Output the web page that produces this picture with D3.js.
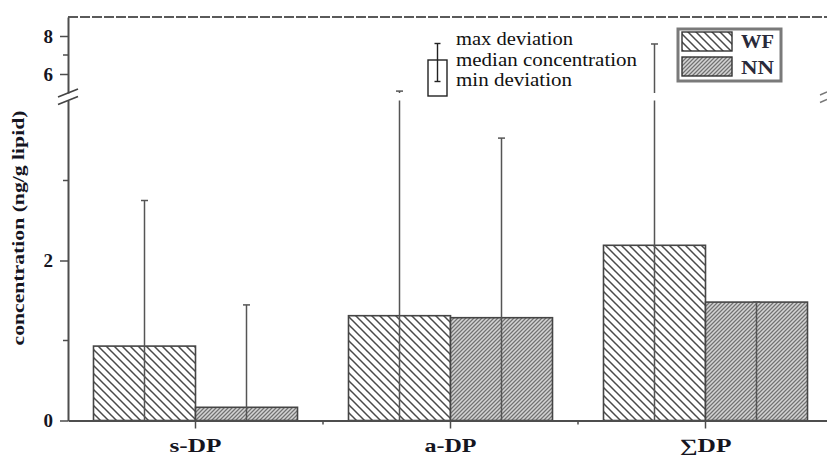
<!DOCTYPE html>
<html>
<head>
<meta charset="utf-8">
<script src="https://cdn.jsdelivr.net/npm/d3@7"></script>
<style>
  html, body { margin: 0; padding: 0; background: #fff; }
  svg { display: block; }
  text { font-family: "Liberation Serif", "Times New Roman", serif; }
</style>
</head>
<body>
<svg id="chart" width="827" height="455"></svg>
<script>
// ---- data ----
const categories = ["s-DP", "a-DP", "∑DP"];
const seriesNames = ["WF", "NN"];
const wfMedian = [0.93, 1.31, 2.19];
const nnMedian = [0.165, 1.285, 1.48];
const wfMax = [2.75, 5.1, 7.58];
const nnMax = [1.445, 3.53, 1.48];
const lowerTicks = [0, 2];
const lowerMinor = [1, 3];
const upperTicks = [6, 8];
const upperMinor = [7];
const legendNotes = ["max deviation", "median concentration", "min deviation"];
const yTitle = "concentration (ng/g lipid)";

const svg = d3.select("#chart");
const defs = svg.append("defs");

// patterns
const pWF = defs.append("pattern").attr("id", "pWF")
  .attr("patternUnits", "userSpaceOnUse").attr("width", 8).attr("height", 8);
pWF.append("rect").attr("width", 8).attr("height", 8).attr("fill", "#fff");
pWF.append("path").attr("d", "M-2,-2L10,10M-2,6L2,10M6,-2L10,2")
  .attr("stroke", "#4a4a4a").attr("stroke-width", 1.5);

const pNN = defs.append("pattern").attr("id", "pNN")
  .attr("patternUnits", "userSpaceOnUse").attr("width", 4).attr("height", 4);
pNN.append("rect").attr("width", 4).attr("height", 4).attr("fill", "#ababab");
pNN.append("path").attr("d", "M-1,5L5,-1M-1,1L1,-1M3,5L5,3")
  .attr("stroke", "#727272").attr("stroke-width", 1);
pNN.append("path").attr("d", "M1,5L5,1M-1,3L3,-1")
  .attr("stroke", "#dedede").attr("stroke-width", 0.8);

const fills = { WF: "url(#pWF)", NN: "url(#pNN)" };

// scales
const x = d3.scaleBand().domain(categories).range([68, 833])
  .paddingInner(0.2).paddingOuter(0.1);
const xs = d3.scaleBand().domain(seriesNames).range([0, x.bandwidth()]);
const yLow = d3.scaleLinear().domain([0, 4]).range([420.5, 100.5]);
const yHigh = d3.scaleLinear().domain([5, 9]).range([93, 17]);
const y = v => (v <= 4.5 ? yLow(v) : yHigh(v));

const axisColor = "#4d4d4d";
const textColor = "#15151f";

// top frame line
svg.append("line").attr("x1", 68).attr("x2", 827)
  .attr("y1", yHigh(9)).attr("y2", yHigh(9))
  .attr("stroke", "#5a5a5a").attr("stroke-width", 2).attr("stroke-dasharray", "10,2");

// bars
const rows = [];
categories.forEach((c, i) => {
  rows.push({ cat: c, s: "WF", v: wfMedian[i], max: wfMax[i] });
  rows.push({ cat: c, s: "NN", v: nnMedian[i], max: nnMax[i] });
});

svg.append("g").selectAll("rect").data(rows).join("rect")
  .attr("x", d => x(d.cat) + xs(d.s))
  .attr("width", xs.bandwidth())
  .attr("y", d => yLow(d.v))
  .attr("height", d => yLow(0) - yLow(d.v))
  .attr("fill", d => fills[d.s])
  .attr("stroke", "#454545").attr("stroke-width", 1.6);

// error bars (from baseline to max deviation)
const eb = svg.append("g").attr("stroke", "#555").attr("stroke-width", 1.5);
rows.forEach(d => {
  const cx = x(d.cat) + xs(d.s) + xs.bandwidth() / 2;
  if (d.max > 4.5) {
    eb.append("line").attr("x1", cx).attr("x2", cx).attr("y1", yLow(0)).attr("y2", yLow(4));
    eb.append("line").attr("x1", cx).attr("x2", cx).attr("y1", yHigh(5)).attr("y2", y(d.max));
  } else {
    eb.append("line").attr("x1", cx).attr("x2", cx).attr("y1", yLow(0)).attr("y2", y(d.max));
  }
  eb.append("line").attr("x1", cx - 3.5).attr("x2", cx + 3.5)
    .attr("y1", y(d.max)).attr("y2", y(d.max));
});

// x axis
const xAxis = svg.append("g").attr("transform", `translate(0,${yLow(0)})`)
  .call(d3.axisBottom(x).tickSize(8).tickSizeOuter(0).tickPadding(10));
xAxis.select(".domain").attr("stroke", axisColor).attr("stroke-width", 2);
xAxis.selectAll(".tick line").attr("stroke", axisColor).attr("stroke-width", 1.5);
xAxis.selectAll(".tick text")
  .attr("font-family", "Liberation Serif").attr("font-weight", "bold")
  .attr("font-size", 19).attr("fill", textColor)
  .attr("textLength", 52).attr("lengthAdjust", "spacingAndGlyphs");
// minor x ticks between groups
const step = x.step();
categories.slice(0, -1).forEach(c => {
  const mx = x(c) + x.bandwidth() / 2 + step / 2;
  svg.append("line").attr("x1", mx).attr("x2", mx)
    .attr("y1", yLow(0)).attr("y2", yLow(0) + 4)
    .attr("stroke", axisColor).attr("stroke-width", 1.5);
});

// y axes
function styleY(g) {
  g.select(".domain").attr("stroke", axisColor).attr("stroke-width", 2);
  g.selectAll(".tick line").attr("stroke", axisColor).attr("stroke-width", 1.5);
  g.selectAll(".tick text")
    .attr("font-family", "Liberation Serif").attr("font-weight", "bold")
    .attr("font-size", 19).attr("fill", textColor);
}
const yLowAxis = svg.append("g").attr("transform", "translate(68,0)")
  .call(d3.axisLeft(yLow).tickValues(lowerTicks).tickSize(8).tickSizeOuter(0).tickPadding(7).tickFormat(d3.format("d")));
styleY(yLowAxis);
const yHighAxis = svg.append("g").attr("transform", "translate(68,0)")
  .call(d3.axisLeft(yHigh).tickValues(upperTicks).tickSize(8).tickSizeOuter(0).tickPadding(7).tickFormat(d3.format("d")));
styleY(yHighAxis);
// minor y ticks
lowerMinor.map(yLow).concat(upperMinor.map(yHigh)).forEach(py => {
  svg.append("line").attr("x1", 63).attr("x2", 68).attr("y1", py).attr("y2", py)
    .attr("stroke", axisColor).attr("stroke-width", 1.5);
});

// axis break marks
const bTop = yHigh(5), bBot = yLow(4);
[bTop, bBot].forEach(by => {
  svg.append("line").attr("x1", 58).attr("x2", 78).attr("y1", by + 4).attr("y2", by - 4)
    .attr("stroke", "#444").attr("stroke-width", 1.6);
  svg.append("line").attr("x1", 820).attr("x2", 827).attr("y1", by + 2).attr("y2", by - 1)
    .attr("stroke", "#777").attr("stroke-width", 1.4);
});

// y title
svg.append("text")
  .attr("transform", "translate(24,228) rotate(-90)")
  .attr("text-anchor", "middle")
  .attr("font-weight", "bold").attr("font-size", 16.5).attr("fill", textColor)
  .attr("textLength", 235).attr("lengthAdjust", "spacingAndGlyphs")
  .text(yTitle);

// explanatory legend (box + whisker icon)
svg.append("rect").attr("x", 428).attr("y", 60).attr("width", 19).attr("height", 36)
  .attr("fill", "none").attr("stroke", "#222").attr("stroke-width", 1.4);
const ix = 437.5;
svg.append("line").attr("x1", ix).attr("x2", ix).attr("y1", 43.5).attr("y2", 81.5)
  .attr("stroke", "#222").attr("stroke-width", 1.4);
[43.5, 81.5].forEach(py => svg.append("line").attr("x1", ix - 3).attr("x2", ix + 3)
  .attr("y1", py).attr("y2", py).attr("stroke", "#222").attr("stroke-width", 1.4));
const noteY = [45, 66, 86];
const noteW = [117, 181, 116];
legendNotes.forEach((t, i) => {
  svg.append("text").attr("x", 456).attr("y", noteY[i])
    .attr("font-size", 18).attr("fill", "#111")
    .attr("textLength", noteW[i]).attr("lengthAdjust", "spacingAndGlyphs")
    .text(t);
});

// series legend
svg.append("rect").attr("x", 678).attr("y", 29).attr("width", 103).attr("height", 52)
  .attr("fill", "#fff").attr("stroke", "#7a7a7a").attr("stroke-width", 3);
seriesNames.forEach((s, i) => {
  const sy = [32, 57][i];
  svg.append("rect").attr("x", 682).attr("y", sy).attr("width", 50).attr("height", 19)
    .attr("fill", fills[s]).attr("stroke", "#333").attr("stroke-width", 1.4);
  svg.append("text").attr("x", 741).attr("y", [48, 74][i])
    .attr("font-weight", "bold").attr("font-size", 18).attr("fill", "#2a2a3a")
    .attr("textLength", 33).attr("lengthAdjust", "spacingAndGlyphs")
    .text(s);
});
</script>
</body>
</html>
